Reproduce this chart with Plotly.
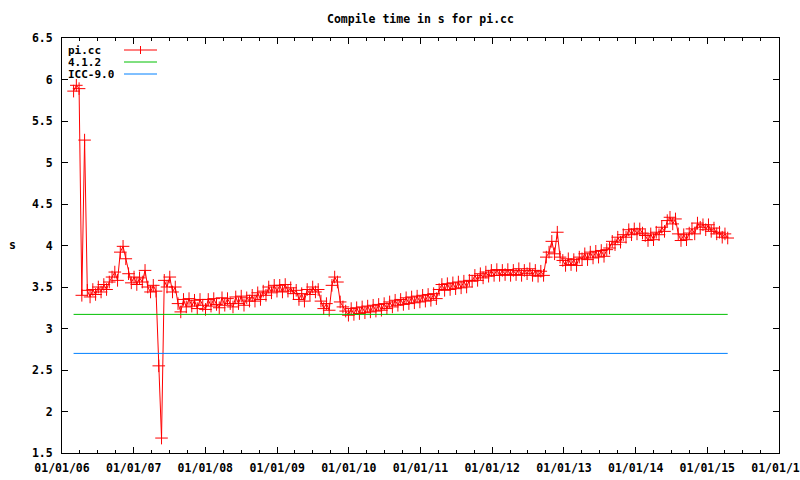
import pandas as pd
import plotly.graph_objects as go

# ---- data ----
start_date = "2006-03-01"
step = "14D"
pi_cc = [
    5.86, 5.93, 5.89, 3.40, 5.27,
    3.46, 3.38, 3.47, 3.41, 3.50,
    3.44, 3.53, 3.47, 3.56, 3.62,
    3.68, 3.58, 3.92, 3.99, 3.84,
    3.66, 3.55, 3.62, 3.53, 3.61,
    3.56, 3.70, 3.50, 3.44, 3.52,
    3.45, 2.55, 1.68, 3.58, 3.50,
    3.62, 3.44, 3.50, 3.30, 3.20,
    3.35, 3.26, 3.36, 3.27, 3.34,
    3.24, 3.35, 3.28, 3.23, 3.35,
    3.27, 3.36, 3.29, 3.25, 3.37,
    3.28, 3.36, 3.30, 3.26, 3.38,
    3.30, 3.39, 3.28, 3.37, 3.33,
    3.40, 3.33, 3.43, 3.35, 3.45,
    3.40, 3.50, 3.43, 3.52, 3.45,
    3.52, 3.44, 3.53, 3.45, 3.49,
    3.42, 3.46, 3.35, 3.42, 3.33,
    3.47, 3.41, 3.50, 3.44, 3.47,
    3.33, 3.24, 3.30, 3.22, 3.52,
    3.62, 3.56, 3.32, 3.26, 3.21,
    3.16, 3.24, 3.17, 3.25, 3.18,
    3.26, 3.19, 3.27, 3.20, 3.28,
    3.21, 3.29, 3.22, 3.30, 3.24,
    3.32, 3.26, 3.34, 3.28, 3.35,
    3.29, 3.37, 3.30, 3.38, 3.31,
    3.39, 3.32, 3.40, 3.33, 3.41,
    3.34, 3.42, 3.36, 3.47, 3.53,
    3.46, 3.54, 3.47, 3.55, 3.48,
    3.56, 3.49, 3.57, 3.50, 3.58,
    3.57, 3.64, 3.58, 3.66, 3.61,
    3.68, 3.63, 3.70, 3.64, 3.71,
    3.64, 3.70, 3.65, 3.71, 3.64,
    3.70, 3.65, 3.72, 3.64, 3.70,
    3.66, 3.72, 3.64, 3.70, 3.63,
    3.69, 3.64, 3.86, 3.92, 4.05,
    3.90, 4.16, 3.86, 3.82, 3.76,
    3.84, 3.77, 3.83, 3.76, 3.86,
    3.84, 3.90, 3.83, 3.92, 3.85,
    3.93, 3.86, 3.94, 3.87, 3.95,
    3.97, 4.05, 4.01, 4.10, 4.04,
    4.13, 4.10, 4.19, 4.13, 4.20,
    4.14, 4.20, 4.15, 4.12, 4.06,
    4.14, 4.07, 4.16, 4.13, 4.22,
    4.17, 4.30, 4.34, 4.26, 4.32,
    4.14, 4.06, 4.13, 4.07, 4.15,
    4.20, 4.14, 4.27, 4.22, 4.25,
    4.19, 4.25, 4.17, 4.21, 4.14,
    4.16, 4.10, 4.14, 4.09,
]
gcc_412 = 3.17
icc_90 = 2.70
series_names = ["pi.cc", "4.1.2", "ICC-9.0"]
colors = ["#ff0000", "#00c000", "#0080ff"]
title_text = "Compile time in s for pi.cc"
y_title = "s"

dates = pd.date_range(start_date, periods=len(pi_cc), freq=step)
ends = [dates[0], dates[-1]]

FONT = "DejaVu Sans Mono"
FS = 11.5

fig = go.Figure()
fig.add_trace(go.Scatter(
    x=dates, y=pi_cc, mode="lines+markers", name=series_names[0],
    line=dict(color=colors[0], width=1),
    marker=dict(symbol="cross-thin", size=9, color=colors[0],
                line=dict(color=colors[0], width=1)),
))
fig.add_trace(go.Scatter(x=ends, y=[gcc_412, gcc_412], mode="lines",
                         name=series_names[1], line=dict(color=colors[1], width=1)))
fig.add_trace(go.Scatter(x=ends, y=[icc_90, icc_90], mode="lines",
                         name=series_names[2], line=dict(color=colors[2], width=1)))

L, R, T, B = 62, 21, 38, 27
W, H = 800, 480
pw, ph = W - L - R, H - T - B


def px(xp):
    return (xp - L) / pw


def py(yp):
    return (H - B - yp) / ph


annotations = []
shapes = []
legend_rows = [50, 62, 74]
for name, c, yy in zip(series_names, colors, legend_rows):
    annotations.append(dict(text=name, xref="paper", yref="paper", x=px(66), y=py(yy),
                            xanchor="left", yanchor="middle", showarrow=False, height=11,
                            font=dict(family=FONT, size=11, color="black", weight="bold")))
    shapes.append(dict(type="line", xref="paper", yref="paper", x0=px(124), x1=px(157),
                       y0=py(yy), y1=py(yy), line=dict(color=c, width=1)))
# cross on legend sample of pi.cc
shapes.append(dict(type="line", xref="paper", yref="paper", x0=px(140.5), x1=px(140.5),
                   y0=py(legend_rows[0] - 4), y1=py(legend_rows[0] + 4),
                   line=dict(color=colors[0], width=1)))

annotations.append(dict(text=y_title, xref="paper", yref="paper", x=px(12), y=py(245),
                        xanchor="center", yanchor="middle", showarrow=False,
                        font=dict(family=FONT, size=FS, color="black", weight="bold")))
annotations.append(dict(text=title_text, xref="paper", yref="paper", x=0.5, y=py(19),
                        xanchor="center", yanchor="middle", showarrow=False,
                        font=dict(family=FONT, size=FS, color="black", weight="bold")))

fig.update_layout(
    width=W, height=H,
    margin=dict(l=L, r=R, t=T, b=B, pad=0),
    paper_bgcolor="white", plot_bgcolor="white",
    showlegend=False,
    font=dict(family=FONT, size=FS, color="black", weight="bold"),
    annotations=annotations, shapes=shapes,
    xaxis=dict(
        type="date", range=["2006-01-01", "2016-01-01 06:00"],
        tick0="2006-01-01", dtick="M12", tickformat="%m/%d/%y",
        ticks="inside", ticklen=6, tickcolor="black", tickwidth=1,
        minor=dict(dtick="M3", tick0="2006-01-01", ticks="inside", ticklen=3,
                   tickcolor="black", tickwidth=1),
        showline=True, linecolor="black", linewidth=1, mirror="allticks",
        showgrid=False, zeroline=False, ticklabelstandoff=4, automargin=False,
        ticklabeloverflow="allow",
    ),
    yaxis=dict(
        range=[1.5, 6.5], dtick=0.5, tick0=1.5,
        ticks="inside", ticklen=6, tickcolor="black", tickwidth=1,
        showline=True, linecolor="black", linewidth=1, mirror="allticks",
        showgrid=False, zeroline=False, ticklabelstandoff=6, automargin=False,
    ),
)

fig.write_html("out.html", config={"displayModeBar": False},
               post_script="document.body.style.margin='0';")
